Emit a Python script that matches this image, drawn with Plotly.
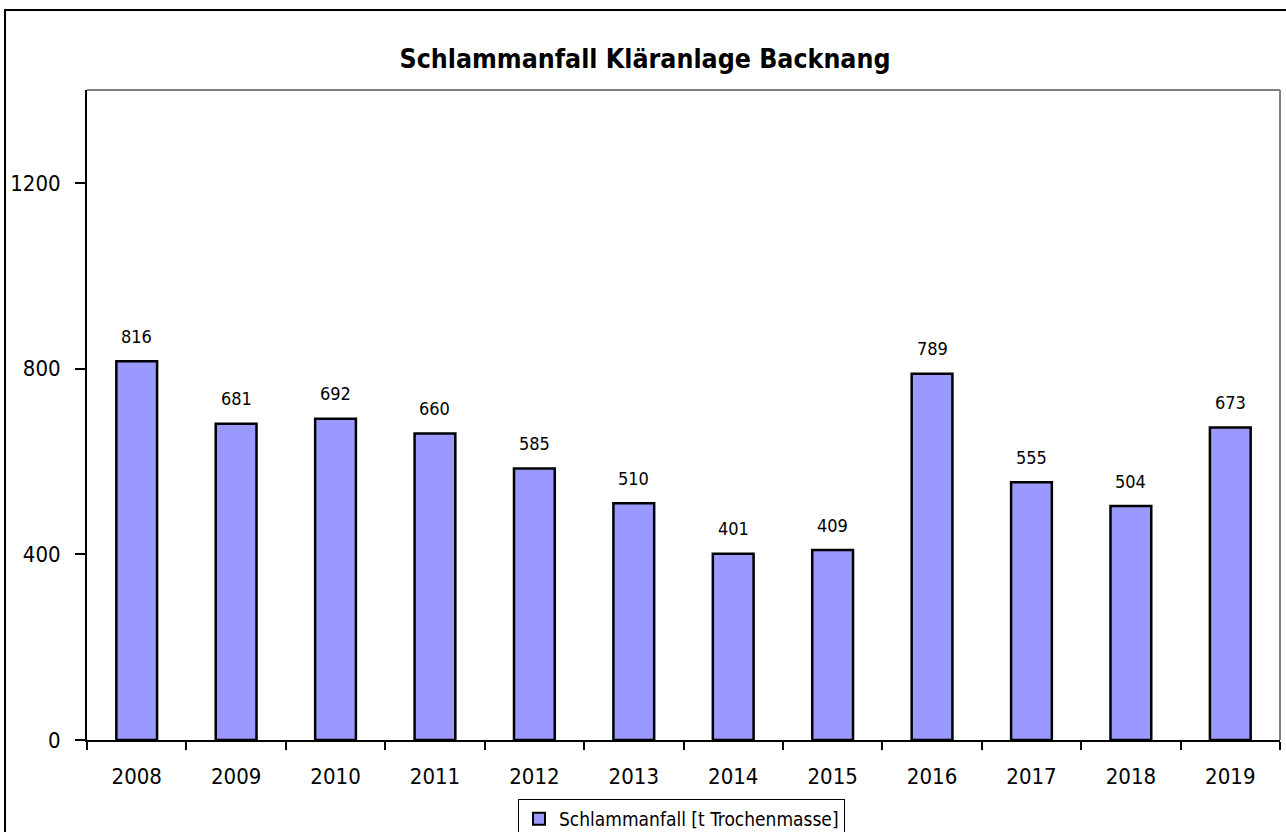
import plotly.graph_objects as go

years = ["2008", "2009", "2010", "2011", "2012", "2013", "2014", "2015", "2016", "2017", "2018", "2019"]
values = [816, 681, 692, 660, 585, 510, 401, 409, 789, 555, 504, 673]
y_ticks = [0, 400, 800, 1200]

FONT = "DejaVu Sans Condensed, DejaVu Sans, sans-serif"

W, H = 1286, 832
L, R, T, B = 87, 6, 90, 92
pw = W - L - R
ph = H - T - B


def px(x):
    return (x - L) / pw


def py(y):
    return (H - B - y) / ph


fig = go.Figure()
fig.add_trace(go.Bar(
    x=years, y=values,
    name="Schlammanfall [t Trochenmasse]",
    marker=dict(color="#9999FF", line=dict(color="black", width=2.5)),
    width=0.41,
))

# value labels above bars (category index positions on the x axis)
for i, v in enumerate(values):
    fig.add_annotation(x=i, y=v, xref="x", yref="y", text=str(v), showarrow=False,
                       yanchor="middle", yshift=25,
                       font=dict(size=18, family=FONT, color="black"))

fig.update_layout(
    width=W, height=H,
    margin=dict(l=L, r=R, t=T, b=B, autoexpand=False),
    paper_bgcolor="white", plot_bgcolor="white",
    font=dict(family=FONT, color="black"),
    title=dict(text="<b>Schlammanfall Kläranlage Backnang</b>", x=645 / W, xanchor="center",
               y=1 - 59 / H, yref="container", yanchor="middle",
               font=dict(size=26.5, family=FONT)),
    showlegend=True,
    legend=dict(x=px(518), y=py(799), xanchor="left", yanchor="top",
                bordercolor="black", borderwidth=1, bgcolor="white",
                font=dict(size=19, family=FONT), itemsizing="constant",
                itemwidth=30, tracegroupgap=0),
    xaxis=dict(
        type="category", categoryorder="array", categoryarray=years,
        showgrid=False, showline=True, linecolor="black", linewidth=2,
        ticks="outside", tickson="boundaries", ticklen=8, tickwidth=2, tickcolor="black",
        tickfont=dict(size=22, family=FONT), ticklabelstandoff=16, automargin=False,
    ),
    yaxis=dict(
        range=[0, 1400], tickvals=y_ticks, showgrid=False, showline=True, linecolor="black",
        linewidth=2, ticks="outside", ticklen=10, tickwidth=2, tickcolor="black",
        tickfont=dict(size=22, family=FONT), zeroline=False, ticklabelstandoff=10,
        automargin=False,
    ),
    shapes=[
        dict(type="line", xref="paper", yref="paper", x0=0, x1=1, y0=1, y1=1,
             line=dict(color="#808080", width=2)),
        dict(type="line", xref="paper", yref="paper", x0=1, x1=1, y0=0, y1=1,
             line=dict(color="#808080", width=2)),
        dict(type="rect", xref="paper", yref="paper", x0=px(5), x1=px(1300), y0=py(860), y1=py(10),
             line=dict(color="black", width=2), fillcolor="rgba(0,0,0,0)", layer="below"),
    ],
)

fig.write_html(
    "out.html",
    config={"displayModeBar": False},
    post_script="document.body.style.margin='0';document.body.style.overflow='hidden';",
)
